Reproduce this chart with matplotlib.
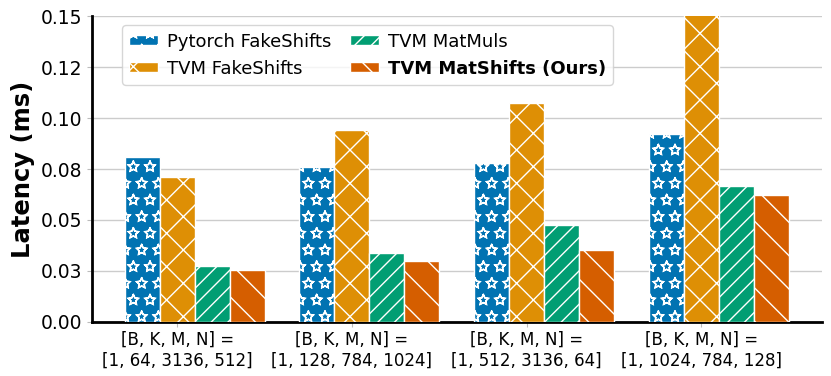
import numpy as np
import matplotlib.pyplot as plt
import matplotlib.hatch
from matplotlib.ticker import FormatStrFormatter

# Données (latence en ms)
shapes = ["[B, K, M, N] =\n[1, 64, 3136, 512]",
          "[B, K, M, N] =\n[1, 128, 784, 1024]",
          "[B, K, M, N] =\n[1, 512, 3136, 64]",
          "[B, K, M, N] =\n[1, 1024, 784, 128]"]
series = ["Pytorch FakeShifts", "TVM FakeShifts", "TVM MatMuls", "TVM MatShifts (Ours)"]
pytorch_fake = [0.0809, 0.0761, 0.0778, 0.0922]
tvm_fake = [0.0709, 0.0941, 0.1072, 0.170]
tvm_matmuls = [0.0275, 0.0337, 0.0474, 0.0665]
tvm_matshifts = [0.0253, 0.0297, 0.0353, 0.0623]

colors = ["#0173b2", "#de8f05", "#029e73", "#d55e00"]
hatches = ["*", "x", "//", "\\"]
plt.rcParams['hatch.color'] = 'white'
plt.rcParams['hatch.linewidth'] = 1.0
# étoiles en contour (pas remplies)
matplotlib.hatch.Stars.filled = False

fig = plt.figure(figsize=(8.31, 3.76), dpi=100)
ax = fig.add_axes([0.111, 0.144, 0.878, 0.813])

x = np.arange(len(shapes))
width = 0.2
values = [pytorch_fake, tvm_fake, tvm_matmuls, tvm_matshifts]
for i, (name, vals) in enumerate(zip(series, values)):
    ax.bar(x + (i - 1) * width, vals, width, label=name, color=colors[i],
           hatch=hatches[i], edgecolor='white', linewidth=1, zorder=3)

ax.set_xlim(-0.486, 3.69)
ax.set_ylim(0, 0.15)
ax.set_yticks(np.arange(0, 0.151, 0.025))
ax.yaxis.set_major_formatter(FormatStrFormatter('%.2f'))
ax.set_xticks(x)
ax.set_xticklabels(shapes, fontsize=12)
ax.tick_params(axis='y', labelsize=13.5, color='#bbbbbb')
ax.tick_params(axis='x', color='#bbbbbb', pad=3)
ax.set_ylabel("Latency (ms)", fontsize=17.5, fontweight='bold')
ax.grid(axis='y', color='#cccccc', linewidth=1, zorder=0)
for s in ['top', 'right']:
    ax.spines[s].set_visible(False)
for s in ['left', 'bottom']:
    ax.spines[s].set_linewidth(2)
    ax.spines[s].set_color('black')

leg = ax.legend(ncol=2, loc='upper left', bbox_to_anchor=(0.041, 0.97),
                borderaxespad=0, fontsize=13, handlelength=1.6, handleheight=0.5,
                columnspacing=1.0, handletextpad=0.5, labelspacing=0.5)
leg.get_texts()[3].set_fontweight('bold')

plt.savefig("out.png", dpi=100)
